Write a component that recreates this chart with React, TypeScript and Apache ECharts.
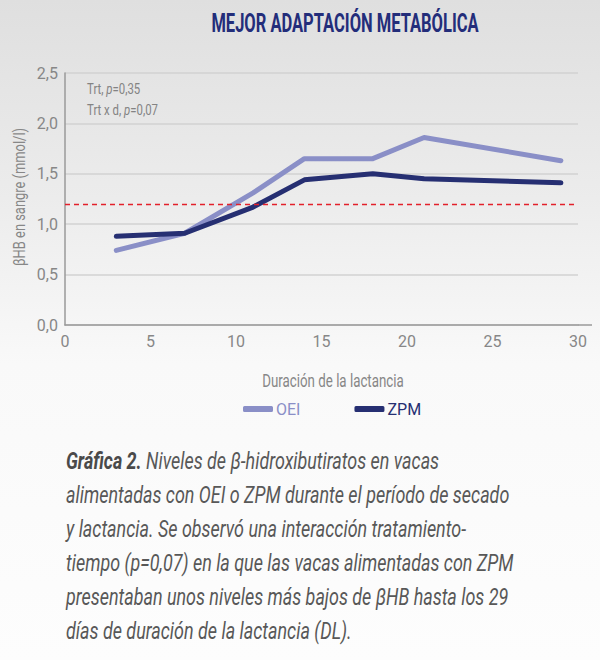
import React, { useEffect, useRef } from "react";
import * as echarts from "echarts";

const days = [3, 7, 11, 14, 18, 21, 29];
const oei = [0.74, 0.91, 1.31, 1.65, 1.65, 1.86, 1.63];
const zpm = [0.88, 0.91, 1.17, 1.44, 1.5, 1.45, 1.41];
const threshold = 1.2;
const seriesNames = ["OEI", "ZPM"];
const titleText = "MEJOR ADAPTACIÓN METABÓLICA";
const xName = "Duración de la lactancia";
const yName = "βHB en sangre (mmol/l)";
const statLines = [
  ["Trt, ", "p", "=0,35"],
  ["Trt x d, ", "p", "=0,07"],
];
const captionLead = "Gráfica 2. ";
const captionLines = [
  "Niveles de β-hidroxibutiratos en vacas",
  "alimentadas con OEI o ZPM durante el período de secado",
  "y lactancia. Se observó una interacción tratamiento-",
  "tiempo (p=0,07) en la que las vacas alimentadas con ZPM",
  "presentaban unos niveles más bajos de βHB hasta los 29",
  "días de duración de la lactancia (DL).",
];

const FONT = "Roboto, 'Liberation Sans', sans-serif";
const C_OEI = "#8a8fc7";
const C_ZPM = "#262f72";
const C_AXIS = "#878787";

export default function App() {
  const ref = useRef<HTMLDivElement>(null);
  useEffect(() => {
    if (!ref.current) return;
    const chart = echarts.init(ref.current, undefined, { renderer: "svg" });
    const graphics: any[] = [
      {
        type: "text",
        x: 345,
        y: 23,
        scaleX: 0.66,
        style: {
          text: titleText,
          font: `bold 25px ${FONT}`,
          fill: "#232d7a",
          textAlign: "center",
          textVerticalAlign: "middle",
        },
      },
      {
        type: "text",
        x: 333,
        y: 381,
        scaleX: 0.74,
        style: {
          text: xName,
          font: `18px ${FONT}`,
          fill: C_AXIS,
          textAlign: "center",
          textVerticalAlign: "middle",
        },
      },
      {
        type: "text",
        x: 19,
        y: 197,
        rotation: Math.PI / 2,
        scaleX: 0.76,
        style: {
          text: yName,
          font: `17px ${FONT}`,
          fill: C_AXIS,
          textAlign: "center",
          textVerticalAlign: "middle",
        },
      },
      {
        type: "line",
        shape: { x1: 578, y1: 325, x2: 592, y2: 325 },
        style: { stroke: "#9a9a9a", lineWidth: 1.5 },
      },
    ];
    statLines.forEach((l, i) => {
      graphics.push({
        type: "text",
        x: 87,
        y: 89 + i * 21,
        scaleX: 0.76,
        style: {
          text: `{n|${l[0]}}{i|${l[1]}}{n|${l[2]}}`,
          textVerticalAlign: "middle",
          rich: {
            n: { font: `15px ${FONT}`, fill: "#838383" },
            i: { font: `italic 15px ${FONT}`, fill: "#838383" },
          },
        },
      });
    });
    captionLines.forEach((l, i) => {
      const t = i === 0 ? `{b|${captionLead}}{i|${l}}` : `{i|${l}}`;
      graphics.push({
        type: "text",
        x: 66,
        y: 461 + i * 34,
        scaleX: 0.78,
        style: {
          text: t,
          textVerticalAlign: "middle",
          rich: {
            b: { font: `italic bold 23px ${FONT}`, fill: "#4a4a4a" },
            i: { font: `italic 23px ${FONT}`, fill: "#585858" },
          },
        },
      });
    });

    chart.setOption({
      animation: false,
      backgroundColor: {
        type: "linear",
        x: 0,
        y: 0,
        x2: 0,
        y2: 1,
        colorStops: [
          { offset: 0, color: "#dfdfdf" },
          { offset: 0.3, color: "#ececec" },
          { offset: 0.55, color: "#f9f9f9" },
          { offset: 1, color: "#fdfdfd" },
        ],
      },
      grid: { left: 65, top: 73, width: 513, height: 252 },
      legend: {
        left: 243,
        top: 401,
        padding: 0,
        itemWidth: 30,
        itemHeight: 6,
        itemGap: 54,
        icon: "roundRect",
        data: [
          { name: seriesNames[0], textStyle: { color: C_OEI } },
          { name: seriesNames[1], textStyle: { color: C_ZPM } },
        ],
        textStyle: { fontFamily: FONT, fontSize: 16, padding: [0, 0, 0, -2] },
      },
      xAxis: {
        type: "value",
        min: 0,
        max: 30,
        interval: 5,
        axisLine: { show: true, lineStyle: { color: "#9a9a9a", width: 1.5 } },
        axisTick: { show: false },
        splitLine: { show: false },
        axisLabel: { color: C_AXIS, fontFamily: FONT, fontSize: 16, margin: 8 },
      },
      yAxis: {
        type: "value",
        min: 0,
        max: 2.5,
        interval: 0.5,
        axisLine: { show: true, lineStyle: { color: "#9a9a9a", width: 1.5 } },
        axisTick: { show: false },
        splitLine: { show: true, lineStyle: { color: "#d2d2d2", width: 1.5 } },
        axisLabel: {
          color: C_AXIS,
          fontFamily: FONT,
          fontSize: 16,
          margin: 7,
          formatter: (v: number) => v.toFixed(1).replace(".", ","),
        },
      },
      series: [
        {
          name: seriesNames[0],
          type: "line",
          data: days.map((d, i) => [d, oei[i]]),
          showSymbol: false,
          symbol: "none",
          color: C_OEI,
          lineStyle: { width: 5, color: C_OEI, cap: "round", join: "round" },
          z: 3,
          markLine: {
            silent: true,
            symbol: "none",
            label: { show: false },
            lineStyle: { color: "#e3202b", type: [5, 4], width: 1.3 },
            data: [{ yAxis: threshold }],
          },
        },
        {
          name: seriesNames[1],
          type: "line",
          data: days.map((d, i) => [d, zpm[i]]),
          showSymbol: false,
          symbol: "none",
          color: C_ZPM,
          lineStyle: { width: 5, color: C_ZPM, cap: "round", join: "round" },
          z: 4,
        },
      ],
      graphic: graphics,
    });
    return () => chart.dispose();
  }, []);
  return (
    <div
      ref={ref}
      style={{ position: "fixed", left: 0, top: 0, width: 600, height: 660 }}
    />
  );
}
